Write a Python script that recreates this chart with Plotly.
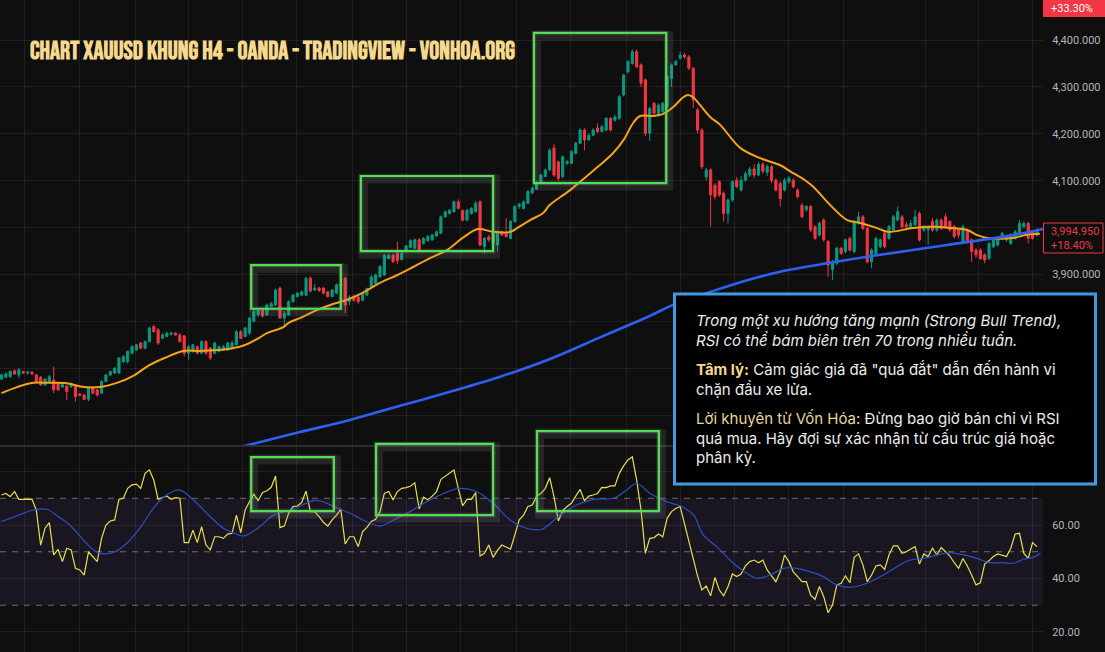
import plotly.graph_objects as go

# ---------------- DATA ----------------
opens = [
    3677, 3681, 3682, 3695, 3686, 3693, 3690, 3692, 3686, 3681,
    3665, 3672, 3675, 3668, 3660, 3662, 3661, 3662, 3645, 3643,
    3634, 3658, 3654, 3647, 3672, 3686, 3690, 3690, 3714, 3714,
    3732, 3739, 3754, 3743, 3757, 3789, 3782, 3764, 3768, 3772,
    3775, 3771, 3769, 3732, 3736, 3746, 3732, 3757, 3743, 3732,
    3736, 3739, 3739, 3743, 3750, 3778, 3768, 3775, 3800, 3814,
    3825, 3814, 3832, 3835, 3871, 3807, 3814, 3842, 3853, 3856,
    3856, 3892, 3867, 3871, 3871, 3863, 3853, 3860, 3876, 3892,
    3842, 3853, 3852, 3845, 3856, 3874, 3881, 3895, 3899, 3934,
    3941, 3945, 3932, 3952, 3958, 3956, 3974, 3966, 3972, 3974,
    3982, 3988, 4023, 4030, 4034, 4055, 4036, 4016, 4030, 4034,
    4055, 3959, 3980, 3966, 3963, 3991, 3988, 3977, 4013, 4045,
    4041, 4052, 4074, 4082, 4094, 4109, 4123, 4170, 4140, 4109,
    4137, 4137, 4158, 4180, 4208, 4187, 4197, 4212, 4205, 4208,
    4233, 4229, 4233, 4283, 4332, 4350, 4375, 4347, 4315, 4201,
    4265, 4240, 4247, 4258, 4318, 4347, 4361, 4368, 4364, 4340,
    4251, 4208, 4108, 4123, 4090, 4098, 4073, 4030, 4059, 4101,
    4080, 4101, 4112, 4125, 4112, 4135, 4118, 4130, 4101, 4094,
    4080, 4098, 4101, 4080, 4048, 4038, 4045, 4002, 3984, 4016,
    3970, 3910, 3924, 3956, 3949, 3977, 3949, 4009, 4023, 3998,
    3927, 3945, 3959, 3988, 3977, 3995, 4016, 4023, 4006, 4002,
    4006, 4030, 3995, 3995, 4013, 3995, 4016, 4023, 4013, 4002,
    3995, 3970, 3995, 3974, 3952, 3952, 3942, 3934, 3959, 3963,
    3977, 3974, 3966, 3977, 3988, 4002, 4009, 3991, 3984,
]
highs = [
    3689, 3691, 3696, 3697, 3700, 3695, 3694, 3694, 3688, 3684,
    3679, 3686, 3704, 3670, 3668, 3665, 3670, 3665, 3647, 3645,
    3660, 3661, 3656, 3675, 3688, 3695, 3703, 3724, 3728, 3738,
    3749, 3752, 3756, 3759, 3789, 3793, 3786, 3775, 3778, 3778,
    3777, 3775, 3771, 3750, 3752, 3749, 3760, 3760, 3746, 3757,
    3749, 3750, 3757, 3759, 3782, 3782, 3789, 3810, 3825, 3828,
    3828, 3838, 3842, 3870, 3874, 3822, 3845, 3859, 3863, 3866,
    3895, 3896, 3880, 3874, 3873, 3865, 3869, 3881, 3884, 3895,
    3856, 3858, 3856, 3862, 3872, 3898, 3902, 3920, 3944, 3945,
    3944, 3970, 3948, 3963, 3975, 3977, 3977, 3980, 3984, 3987,
    3994, 4026, 4036, 4040, 4058, 4060, 4039, 4040, 4044, 4057,
    4058, 3980, 3984, 3991, 3994, 3994, 4020, 4016, 4048, 4053,
    4058, 4080, 4087, 4099, 4115, 4126, 4170, 4178, 4143, 4154,
    4145, 4165, 4183, 4212, 4212, 4201, 4212, 4222, 4219, 4236,
    4236, 4240, 4283, 4328, 4357, 4380, 4380, 4350, 4318, 4258,
    4268, 4265, 4268, 4325, 4350, 4358, 4375, 4372, 4368, 4343,
    4255, 4212, 4128, 4126, 4095, 4101, 4077, 4062, 4101, 4108,
    4110, 4120, 4130, 4135, 4140, 4140, 4135, 4133, 4105, 4098,
    4106, 4110, 4105, 4084, 4052, 4048, 4048, 4005, 4013, 4020,
    3974, 3931, 3959, 3959, 3977, 3981, 4016, 4034, 4027, 4002,
    3956, 3981, 3977, 3991, 4006, 4027, 4045, 4027, 4013, 4016,
    4038, 4034, 4006, 4005, 4020, 4020, 4020, 4030, 4016, 4006,
    3998, 4006, 3998, 3977, 3956, 3956, 3945, 3970, 3977, 3981,
    3991, 3984, 3988, 3995, 4016, 4013, 4013, 3995, 3998,
]
lows = [
    3675, 3679, 3680, 3686, 3679, 3688, 3686, 3686, 3670, 3662,
    3662, 3670, 3647, 3652, 3658, 3632, 3658, 3629, 3640, 3632,
    3630, 3645, 3640, 3645, 3670, 3684, 3688, 3688, 3712, 3710,
    3730, 3737, 3741, 3741, 3755, 3776, 3750, 3762, 3766, 3770,
    3769, 3755, 3725, 3718, 3733, 3730, 3730, 3729, 3718, 3730,
    3734, 3737, 3737, 3741, 3748, 3762, 3766, 3771, 3798, 3810,
    3808, 3812, 3830, 3833, 3805, 3789, 3812, 3840, 3851, 3854,
    3854, 3862, 3865, 3863, 3858, 3851, 3851, 3858, 3874, 3818,
    3835, 3842, 3838, 3843, 3854, 3872, 3879, 3893, 3897, 3932,
    3925, 3922, 3930, 3950, 3956, 3954, 3950, 3964, 3970, 3972,
    3980, 3986, 4021, 4028, 4032, 4039, 4013, 4013, 4028, 4032,
    3960, 3945, 3970, 3964, 3949, 3982, 3978, 3975, 4010, 4040,
    4039, 4050, 4072, 4080, 4092, 4107, 4120, 4108, 4100, 4105,
    4133, 4135, 4156, 4178, 4165, 4185, 4195, 4201, 4203, 4205,
    4205, 4226, 4230, 4280, 4329, 4347, 4340, 4300, 4195, 4185,
    4240, 4237, 4244, 4255, 4300, 4345, 4358, 4360, 4336, 4255,
    4201, 4125, 4100, 4002, 4060, 4065, 4013, 4009, 4055, 4084,
    4077, 4098, 4108, 4105, 4110, 4115, 4110, 4095, 4077, 4045,
    4077, 4094, 4084, 4062, 4020, 4034, 3991, 3974, 3981, 3970,
    3895, 3888, 3920, 3942, 3945, 3949, 3945, 4006, 3995, 3924,
    3913, 3942, 3956, 3956, 3974, 3991, 4013, 3998, 3998, 3998,
    4002, 3970, 3991, 3963, 3991, 3991, 3995, 3998, 3991, 3977,
    3977, 3966, 3966, 3927, 3935, 3931, 3924, 3931, 3956, 3959,
    3974, 3970, 3963, 3974, 3984, 3998, 3966, 3974, 3981,
]
closes = [
    3686, 3688, 3693, 3688, 3697, 3690, 3692, 3688, 3672, 3665,
    3677, 3682, 3654, 3654, 3665, 3650, 3668, 3640, 3643, 3634,
    3658, 3647, 3643, 3672, 3686, 3693, 3700, 3722, 3725, 3736,
    3746, 3750, 3743, 3757, 3786, 3778, 3754, 3771, 3775, 3775,
    3771, 3757, 3732, 3746, 3750, 3732, 3757, 3732, 3722, 3754,
    3746, 3746, 3754, 3754, 3778, 3764, 3786, 3807, 3821, 3824,
    3812, 3835, 3838, 3867, 3807, 3817, 3842, 3856, 3860, 3863,
    3892, 3865, 3871, 3866, 3860, 3853, 3867, 3878, 3880, 3835,
    3852, 3845, 3842, 3860, 3870, 3895, 3899, 3917, 3941, 3941,
    3927, 3930, 3945, 3961, 3972, 3974, 3952, 3977, 3981, 3984,
    3991, 4023, 4034, 4037, 4055, 4041, 4016, 4037, 4041, 4052,
    3963, 3977, 3974, 3988, 3991, 3984, 3981, 4013, 4045, 4050,
    4055, 4077, 4084, 4096, 4112, 4123, 4165, 4112, 4105, 4151,
    4141, 4162, 4180, 4208, 4187, 4197, 4208, 4205, 4215, 4233,
    4208, 4236, 4279, 4325, 4354, 4375, 4343, 4308, 4201, 4254,
    4244, 4261, 4265, 4322, 4347, 4354, 4368, 4364, 4340, 4272,
    4208, 4130, 4123, 4070, 4066, 4070, 4030, 4059, 4098, 4087,
    4101, 4115, 4125, 4112, 4135, 4120, 4130, 4101, 4080, 4062,
    4101, 4105, 4087, 4066, 4023, 4045, 3995, 3977, 4009, 3974,
    3920, 3927, 3956, 3945, 3974, 3952, 4013, 4023, 3998, 3927,
    3952, 3977, 3974, 3959, 4002, 4023, 4034, 4002, 4002, 4009,
    4023, 3974, 4002, 4002, 3995, 4016, 3998, 4002, 3995, 3981,
    3984, 4002, 3970, 3949, 3942, 3934, 3931, 3966, 3974, 3977,
    3988, 3981, 3984, 3991, 4009, 4009, 3977, 3977, 3995,
]
rsi = [
    71.2, 71.8, 70.6, 72.5, 69.6, 69.6, 69.6, 69.7, 65.6, 52.5,
    58.8, 60.9, 48.8, 50.9, 46.3, 51.3, 50.7, 43.8, 43.2, 41.3,
    50.0, 48.2, 46.3, 55.0, 60.0, 61.5, 61.9, 69.6, 70.0, 73.7,
    75.0, 75.3, 73.7, 79.3, 80.6, 76.8, 69.6, 70.3, 70.8, 69.6,
    70.2, 70.0, 53.4, 53.4, 58.1, 53.4, 59.4, 52.5, 50.7, 55.6,
    55.6, 55.0, 56.6, 56.9, 63.7, 57.1, 65.6, 68.7, 71.5, 69.1,
    72.2, 72.8, 74.1, 78.3, 59.0, 59.6, 64.4, 66.9, 67.1, 68.4,
    72.7, 65.0, 65.0, 63.1, 61.0, 59.6, 61.9, 63.7, 65.9, 52.9,
    55.6, 55.6, 51.9, 57.5, 59.1, 61.3, 62.1, 65.0, 71.8, 72.5,
    69.4, 72.5, 73.7, 74.0, 74.5, 75.8, 66.0, 70.4, 69.4, 70.8,
    72.5, 77.1, 78.3, 79.3, 80.6, 73.7, 67.2, 69.6, 69.6, 72.1,
    48.4, 49.4, 52.5, 47.9, 50.5, 52.5, 51.7, 51.0, 56.3, 61.9,
    63.7, 66.9, 67.5, 70.8, 71.8, 73.7, 77.7, 70.6, 61.5, 65.4,
    66.9, 68.1, 70.8, 73.3, 69.1, 70.8, 71.2, 71.8, 74.1, 74.0,
    74.6, 74.6, 79.3, 82.1, 84.3, 85.5, 76.8, 65.6, 49.4, 55.0,
    55.3, 56.6, 55.6, 62.5, 65.0, 66.2, 66.9, 60.6, 54.0, 47.0,
    41.0, 35.7, 37.2, 33.5, 40.4, 35.7, 33.5, 37.0, 41.7, 40.7,
    41.7, 44.7, 46.3, 46.9, 45.9, 46.9, 43.2, 41.0, 38.8, 42.5,
    48.8, 46.3, 42.5, 40.7, 38.8, 38.8, 33.8, 32.2, 37.0, 33.2,
    27.2, 30.1, 37.6, 38.2, 41.0, 38.4, 47.9, 49.2, 45.1, 38.8,
    41.3, 44.7, 45.1, 43.4, 48.8, 52.2, 52.2, 49.4, 50.0, 51.0,
    51.9, 45.4, 49.2, 48.2, 51.3, 48.8, 51.6, 50.0, 48.4, 45.9,
    43.8, 47.5, 44.7, 41.3, 37.6, 38.4, 45.4, 46.7, 48.2, 49.2,
    48.8, 48.2, 51.3, 56.6, 56.9, 49.4, 47.5, 53.4, 51.9,
]
# orange EMA (candle position, price)
ema_x = [0, 3.6, 7.3, 11, 15, 19, 22.6, 26.5, 30.3, 34, 38, 41.8, 45.6, 49.5, 53.2, 55.5,
         58.7, 61, 64.8, 66, 68.6, 72.5, 76.2, 79.4, 83, 87, 91, 94.6, 98.5, 102.4, 106,
         109.5, 113, 117, 118.5, 121.5, 124.5, 126, 130.7, 137, 140.6, 143, 145.2, 146.8,
         149.8, 152, 154.4, 156.7, 157.8, 159, 160.6, 162.9, 165.2, 169.8, 174.4, 179,
         181.3, 184.7, 186.6, 190.5, 194.4, 197.4, 201.3, 203.6, 209.5, 214, 218.7, 222,
         224.3, 226.6, 232.5, 235.7, 238.7]
ema_y = [3647, 3660, 3669, 3669, 3668, 3660, 3660, 3669, 3684, 3707, 3724, 3737, 3737, 3739,
         3743, 3748, 3762, 3775, 3788, 3797, 3807, 3824, 3837, 3846, 3861, 3882, 3899, 3916,
         3935, 3952, 3978, 3997, 3991, 3991, 3999, 4016, 4031, 4048, 4080, 4129, 4159, 4187,
         4223, 4238, 4238, 4242, 4257, 4278, 4283, 4278, 4261, 4236, 4219, 4170, 4148, 4133,
         4120, 4101, 4087, 4048, 4016, 4010, 3999, 3991, 3999, 4002, 3999, 3995, 3984, 3978,
         3978, 3985, 3987]
# blue long moving average (candle position, price)
ma_x = [48, 54.8, 68.6, 80.1, 91.6, 103.1, 114.6, 126.1, 137.6, 149.1, 155, 162.9, 171.4,
        179, 189.8, 202, 217.4, 232.5, 239.4]
ma_y = [3515, 3532, 3564, 3590, 3620, 3650, 3682, 3720, 3766, 3812, 3838, 3863, 3888, 3906,
        3924, 3942, 3963, 3984, 3997]
# blue RSI moving average (candle position, value)
rsima_x = [0, 3.5, 7.3, 10.4, 13.1, 15.7, 18.8, 21.1, 22.6, 25.7, 28.8, 31.8, 34.9, 37.2, 40.8,
           43.7, 47.2, 51, 53.3, 55.6, 59.4, 62.5, 67.1, 71.7, 74, 76.3, 80.1, 83.9, 87, 90.1,
           93.9, 97.7, 101.6, 105.4, 109.2, 113, 116.9, 120.7, 124.2, 128.4, 132.2, 136.1,
           140.7, 143.7, 146, 149.1, 152.9, 156.4, 159.1, 161.3, 164.4, 168.2, 171.3, 173.6,
           176.7, 179.7, 182.8, 185.9, 188.9, 192, 195, 198.9, 202.7, 205.8, 208.9, 212, 215,
           218.1, 221.2, 224.2, 227.3, 230.3, 232.6, 234.9, 237.2, 238.8]
rsima_y = [61.3, 63.4, 65.6, 65.9, 63.1, 60.0, 54.4, 50.7, 49.4, 49.7, 53.2, 58.8, 66.2, 70.3,
           73.1, 70.0, 64.4, 58.8, 57.1, 55.9, 59.4, 63.7, 65.9, 69.1, 68.7, 66.9, 64.4, 61.3,
           59.6, 61.9, 65.0, 68.7, 71.8, 73.7, 72.5, 68.1, 61.9, 58.8, 58.4, 63.7, 67.5, 69.6,
           70.0, 73.1, 75.6, 71.8, 68.7, 66.9, 63.7, 56.3, 51.9, 45.7, 42.0, 40.1, 41.3, 43.8,
           43.8, 42.5, 40.7, 37.6, 36.7, 38.2, 41.3, 44.4, 46.9, 47.5, 48.8, 49.7, 48.8, 47.5,
           45.9, 45.9, 45.7, 47.2, 47.9, 49.4]
# highlighted zones (candle from, candle to, low, high)
price_zones = [(57.4, 78.0, 3827, 3920), (82.6, 113.0, 3950, 4110), (122.4, 152.8, 4095, 4415)]
rsi_zones = [(57.4, 76.4, 65.2, 85.4), (86.1, 113.0, 63.7, 90.3), (123.1, 151.1, 65.2, 95.1)]
rsi_levels = [70, 50, 30]
rsi_ticks = [20, 40, 60, 80]
rsi_tick_text = ["20.00", "40.00", "60.00", ""]          # 80.00 sits under the note box
price_ticks = [3600, 3700, 3800, 3900, 4000, 4100, 4200, 4300, 4400]
price_tick_text = ["", "", "", "3,900.000", "", "4,100.000", "4,200.000", "4,300.000", "4,400.000"]
grid_x = [5.4, 18.0, 30.7, 42.9, 55.5, 67.9, 80.6, 93.2, 105.6, 118.3, 130.9, 143.6, 156,
          168.4, 180.8, 193.5, 212.3, 224.5, 237.1]
last_price_label = "3,994.950<br>+18.40%"
top_change_label = "+33.30%"
title_text = "CHART XAUUSD KHUNG H4 - OANDA - TRADINGVIEW - VONHOA.ORG"
note_p1 = "<i>Trong một xu hướng tăng mạnh (Strong Bull Trend),<br>RSI có thể bám biên trên 70 trong nhiều tuần.</i>"
note_p2 = ("<b><span style='color:#f3d98b'>Tâm lý:</span></b> Cảm giác giá đã \"quá đắt\" dẫn đến hành vi"
           "<br>chặn đầu xe lửa.")
note_p3 = ("<span style='color:#e8d59c'>Lời khuyên từ Vốn Hóa:</span> Đừng bao giờ bán chỉ vì RSI"
           "<br>quá mua. Hãy đợi sự xác nhận từ cấu trúc giá hoặc<br>phân kỳ.")

# ---------------- LAYOUT GEOMETRY ----------------
W, H = 1105, 652
MR = 62
PLOT_W = W - MR
main_dom = [1 - 445 / H, 1.0]
rsi_dom = [0.0, 1 - 447 / H]
price_range = [3536.5, 4485.3]
rsi_range = [12.52, 89.16]
x_range = [-0.345, 239.4]

BG = "#0f0f0f"
GRID = "rgba(255,255,255,0.065)"
UP, DOWN = "#089981", "#f23645"


def pxx(px):
    return px / PLOT_W


def pxy(py):
    return 1 - py / H


def idx_paper(i):
    return (i - x_range[0]) / (x_range[1] - x_range[0])


def price_paper(v):
    return main_dom[0] + (v - price_range[0]) / (price_range[1] - price_range[0]) * (main_dom[1] - main_dom[0])


def rsi_paper(v):
    return rsi_dom[0] + (v - rsi_range[0]) / (rsi_range[1] - rsi_range[0]) * (rsi_dom[1] - rsi_dom[0])


idx = list(range(len(closes)))

fig = go.Figure()
fig.add_trace(go.Candlestick(
    x=idx, open=opens, high=highs, low=lows, close=closes,
    increasing=dict(line=dict(color=UP, width=1), fillcolor=UP),
    decreasing=dict(line=dict(color=DOWN, width=1), fillcolor=DOWN),
    whiskerwidth=0, hoverinfo="skip", showlegend=False, xaxis="x", yaxis="y"))
fig.add_trace(go.Scatter(x=ema_x, y=ema_y, mode="lines", line=dict(color="#f7a21b", width=2, shape="spline"),
                         hoverinfo="skip", showlegend=False, xaxis="x", yaxis="y"))
fig.add_trace(go.Scatter(x=ma_x, y=ma_y, mode="lines", line=dict(color="#2f5ff0", width=2.6, shape="spline"),
                         hoverinfo="skip", showlegend=False, xaxis="x", yaxis="y"))
fig.add_trace(go.Scatter(x=idx, y=rsi, mode="lines", line=dict(color="#e8df4c", width=1.2),
                         hoverinfo="skip", showlegend=False, xaxis="x2", yaxis="y2"))
fig.add_trace(go.Scatter(x=rsima_x, y=rsima_y, mode="lines", line=dict(color="#2d4fc4", width=1.2, shape="spline"),
                         hoverinfo="skip", showlegend=False, xaxis="x2", yaxis="y2"))

shapes = []
# RSI band and levels
shapes.append(dict(type="rect", xref="x2 domain", yref="y2", x0=0, x1=1, y0=rsi_levels[2], y1=rsi_levels[0],
                   fillcolor="rgba(126,87,194,0.10)", line=dict(width=0), layer="below"))
for lv in rsi_levels:
    shapes.append(dict(type="line", xref="x2 domain", yref="y2", x0=0, x1=1, y0=lv, y1=lv,
                       line=dict(color="rgba(180,180,180,0.55)", width=1, dash="6px,6px"), layer="below"))
# pane separator
shapes.append(dict(type="line", xref="paper", yref="paper", x0=0, x1=1, y0=pxy(446), y1=pxy(446),
                   line=dict(color="#2e2e2e", width=2)))

# highlighted green zones with soft shadow
zones = [(idx_paper(a), idx_paper(b), price_paper(lo), price_paper(hi)) for a, b, lo, hi in price_zones]
zones += [(idx_paper(a), idx_paper(b), rsi_paper(lo), rsi_paper(hi)) for a, b, lo, hi in rsi_zones]
for x0, x1, y0, y1 in zones:
    sx, sy = 2.5 / PLOT_W, 3 / H
    shapes.append(dict(type="rect", xref="paper", yref="paper", x0=x0 + sx, x1=x1 + sx, y0=y0 - sy, y1=y1 - sy,
                       line=dict(color="rgba(150,150,150,0.16)", width=9), fillcolor="rgba(0,0,0,0)"))
    shapes.append(dict(type="rect", xref="paper", yref="paper", x0=x0, x1=x1, y0=y0, y1=y1,
                       line=dict(color="rgba(160,160,160,0.14)", width=5), fillcolor="rgba(0,0,0,0)"))
    shapes.append(dict(type="rect", xref="paper", yref="paper", x0=x0, x1=x1, y0=y0, y1=y1,
                       line=dict(color="#52e052", width=2.2), fillcolor="rgba(0,0,0,0)"))

# note box
shapes.append(dict(type="rect", xref="paper", yref="paper", x0=pxx(674.5), x1=pxx(1095.5),
                   y0=pxy(484), y1=pxy(294), fillcolor="#000000", line=dict(color="#4299e1", width=3)))
# price labels on the axis
shapes.append(dict(type="rect", xref="paper", yref="paper", x0=pxx(1043.5), x1=pxx(1103),
                   y0=pxy(253), y1=pxy(223), fillcolor=BG, line=dict(color=DOWN, width=1)))
shapes.append(dict(type="rect", xref="paper", yref="paper", x0=pxx(1043), x1=pxx(1105),
                   y0=pxy(17), y1=pxy(-3), fillcolor=DOWN, line=dict(width=0)))

annotations = [
    dict(text=title_text, xref="paper", yref="paper", x=pxx(28), y=pxy(52), xanchor="left", yanchor="middle",
         showarrow=False, font=dict(family="Bebas Neue, Liberation Sans Narrow, DejaVu Sans Condensed, sans-serif",
                                     size=25, color="#f6d98c", weight="bold")),
    dict(text=note_p1, xref="paper", yref="paper", x=pxx(694), y=pxy(330.5), xanchor="left", yanchor="middle",
         align="left", showarrow=False, font=dict(family="Inter, Noto Sans, sans-serif", size=15, color="#ececec")),
    dict(text=note_p2, xref="paper", yref="paper", x=pxx(694), y=pxy(379.5), xanchor="left", yanchor="middle",
         align="left", showarrow=False, font=dict(family="Inter, Noto Sans, sans-serif", size=15, color="#ececec")),
    dict(text=note_p3, xref="paper", yref="paper", x=pxx(694), y=pxy(437.5), xanchor="left", yanchor="middle",
         align="left", showarrow=False, font=dict(family="Inter, Noto Sans, sans-serif", size=15, color="#ececec")),
    dict(text=last_price_label, xref="paper", yref="paper", x=pxx(1049), y=pxy(238), xanchor="left",
         yanchor="middle", align="left", showarrow=False,
         font=dict(family="Roboto, sans-serif", size=11, color=DOWN)),
    dict(text=top_change_label, xref="paper", yref="paper", x=pxx(1049), y=pxy(8), xanchor="left",
         yanchor="middle", align="left", showarrow=False,
         font=dict(family="Roboto, sans-serif", size=11, color="#ffffff")),
]

axis_font = dict(family="Roboto, sans-serif", size=11, color="#b2b5be")
fig.update_layout(
    width=W, height=H, autosize=False,
    margin=dict(l=0, r=MR, t=0, b=0, pad=0),
    paper_bgcolor=BG, plot_bgcolor=BG,
    showlegend=False, hovermode=False,
    shapes=shapes, annotations=annotations,
    xaxis=dict(domain=[0, 1], range=x_range, anchor="y", showticklabels=False, ticks="",
               tickmode="array", tickvals=grid_x, showgrid=True, gridcolor=GRID, zeroline=False,
               rangeslider=dict(visible=False), showline=False, fixedrange=True),
    xaxis2=dict(domain=[0, 1], range=x_range, anchor="y2", matches="x", showticklabels=False, ticks="",
                tickmode="array", tickvals=grid_x, showgrid=True, gridcolor=GRID, zeroline=False,
                showline=False, fixedrange=True),
    yaxis=dict(domain=main_dom, range=price_range, anchor="x", side="right",
               tickmode="array", tickvals=price_ticks, ticktext=price_tick_text,
               ticks="outside", ticklen=6, tickcolor="rgba(0,0,0,0)",
               showgrid=True, gridcolor=GRID, zeroline=False, showline=False, tickfont=axis_font,
               fixedrange=True),
    yaxis2=dict(domain=rsi_dom, range=rsi_range, anchor="x2", side="right",
                tickmode="array", tickvals=rsi_ticks, ticktext=rsi_tick_text,
                ticks="outside", ticklen=6, tickcolor="rgba(0,0,0,0)",
                showgrid=True, gridcolor=GRID, zeroline=False, showline=False, tickfont=axis_font,
                fixedrange=True),
)

fig.write_html("out.html", config={"displayModeBar": False, "staticPlot": True},
               post_script="document.body.style.margin='0';document.body.style.overflow='hidden';")
